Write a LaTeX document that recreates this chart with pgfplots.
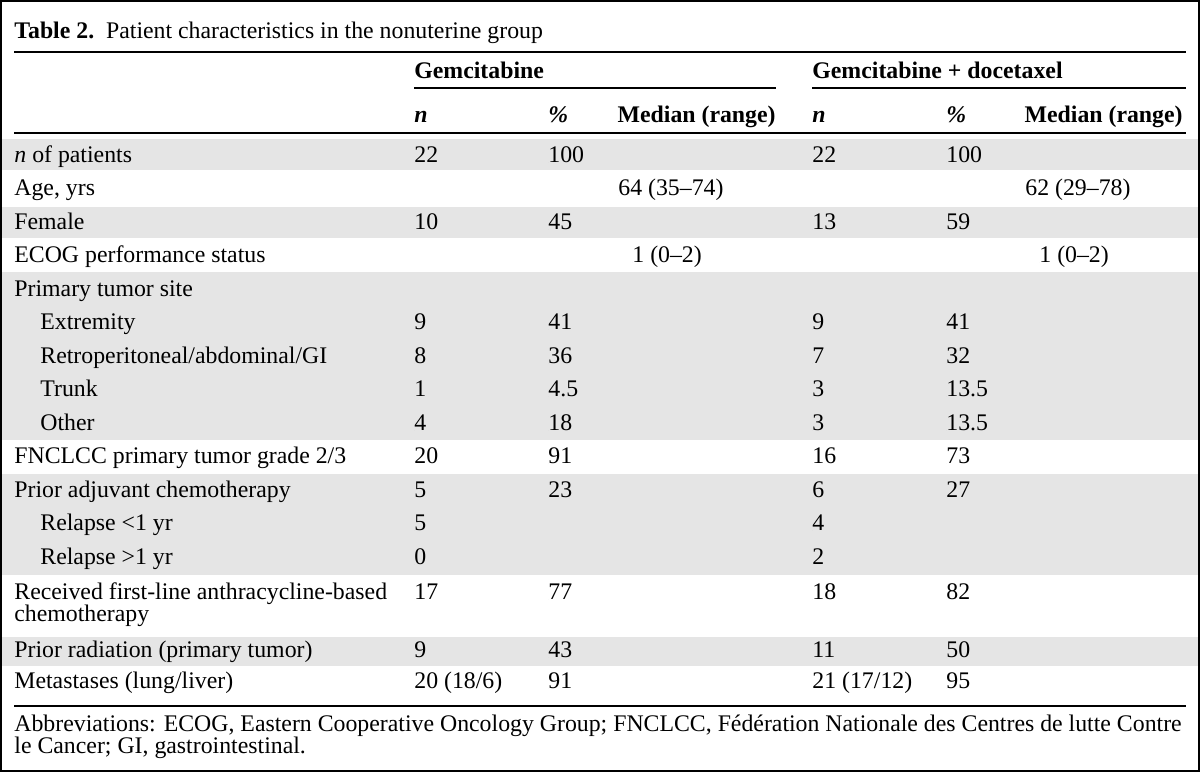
\documentclass[border=0pt]{standalone}
\usepackage{fontspec}
\setmainfont{Liberation Serif}
\usepackage{pgfplots}
\usepackage{pgfplotstable}
\pgfplotsset{compat=1.18}
\definecolor{band}{RGB}{229,229,229}
% n and % columns (x = left edge, y = baseline, px units from top)
\pgfplotstableread[col sep=comma]{
x,y,t
414,162,22
548,162,100
812,162,22
946,162,100
414,229,10
548,229,45
812,229,13
946,229,59
414,329,9
548,329,41
812,329,9
946,329,41
414,363,8
548,363,36
812,363,7
946,363,32
414,396,1
548,396,4.5
812,396,3
946,396,13.5
414,430,4
548,430,18
812,430,3
946,430,13.5
414,463,20
548,463,91
812,463,16
946,463,73
414,497,5
548,497,23
812,497,6
946,497,27
414,530,5
812,530,4
414,564,0
812,564,2
414,599,17
548,599,77
812,599,18
946,599,82
414,657,9
548,657,43
812,657,11
946,657,50
414,688,20 (18/6)
548,688,91
812,688,21 (17/12)
946,688,95
}\numcells
% median (range) columns (x = left edge)
\pgfplotstableread[col sep=comma]{
x,y,t
618,195,64 (35–74)
1025,195,62 (29–78)
632,262,1 (0–2)
1039,262,1 (0–2)
}\medcells
\begin{document}
\fontsize{11.9}{14}\selectfont
\begin{tikzpicture}
\begin{axis}[x=0.5pt, y=0.5pt, xmin=0, xmax=1200, ymin=0, ymax=772,
  y dir=reverse, hide axis, clip=false]
% row bands
\fill[band] (axis cs:2,139) rectangle (axis cs:1198,170);
\fill[band] (axis cs:2,207) rectangle (axis cs:1198,238);
\fill[band] (axis cs:2,272) rectangle (axis cs:1198,440);
\fill[band] (axis cs:2,474) rectangle (axis cs:1198,575);
\fill[band] (axis cs:2,637) rectangle (axis cs:1198,666);
% rules
\draw[line width=0.8pt] (axis cs:14,52) -- (axis cs:1186,52);
\draw[line width=0.8pt] (axis cs:414,88) -- (axis cs:776,88);
\draw[line width=0.8pt] (axis cs:812,88) -- (axis cs:1186,88);
\draw[line width=0.9pt] (axis cs:14,133) -- (axis cs:1186,133);
\draw[line width=0.9pt] (axis cs:14,706) -- (axis cs:1186,706);
% outer frame
\draw[line width=1.2pt] (axis cs:1.2,1.2) rectangle (axis cs:1198.8,770.8);
% title and headers
\node[anchor=base west, inner sep=0pt] at (axis cs:14,38) {\textbf{Table 2.}\ \ Patient characteristics in the nonuterine group};
\node[anchor=base west, inner sep=0pt] at (axis cs:414,78) {\textbf{Gemcitabine}};
\node[anchor=base west, inner sep=0pt] at (axis cs:812,78) {\textbf{Gemcitabine + docetaxel}};
\node[anchor=base west, inner sep=0pt] at (axis cs:414,122) {\textbf{\textit{n}}};
\node[anchor=base west, inner sep=0pt] at (axis cs:548,122) {\textbf{\textit{\%}}};
\node[anchor=base east, inner sep=0pt] at (axis cs:776,122) {\textbf{Median (range)}};
\node[anchor=base west, inner sep=0pt] at (axis cs:812,122) {\textbf{\textit{n}}};
\node[anchor=base west, inner sep=0pt] at (axis cs:946,122) {\textbf{\textit{\%}}};
\node[anchor=base east, inner sep=0pt] at (axis cs:1183,122) {\textbf{Median (range)}};
% row labels
\node[anchor=base west, inner sep=0pt] at (axis cs:14,162) {\textit{n} of patients};
\node[anchor=base west, inner sep=0pt] at (axis cs:14,195) {Age, yrs};
\node[anchor=base west, inner sep=0pt] at (axis cs:14,229) {Female};
\node[anchor=base west, inner sep=0pt] at (axis cs:14,262) {ECOG performance status};
\node[anchor=base west, inner sep=0pt] at (axis cs:14,296) {Primary tumor site};
\node[anchor=base west, inner sep=0pt] at (axis cs:40,329) {Extremity};
\node[anchor=base west, inner sep=0pt] at (axis cs:40,363) {Retroperitoneal/abdominal/GI};
\node[anchor=base west, inner sep=0pt] at (axis cs:40,396) {Trunk};
\node[anchor=base west, inner sep=0pt] at (axis cs:40,430) {Other};
\node[anchor=base west, inner sep=0pt] at (axis cs:14,463) {FNCLCC primary tumor grade 2/3};
\node[anchor=base west, inner sep=0pt] at (axis cs:14,497) {Prior adjuvant chemotherapy};
\node[anchor=base west, inner sep=0pt] at (axis cs:40,530) {Relapse <1 yr};
\node[anchor=base west, inner sep=0pt] at (axis cs:40,564) {Relapse >1 yr};
\node[anchor=base west, inner sep=0pt] at (axis cs:14,599) {Received first-line anthracycline-based};
\node[anchor=base west, inner sep=0pt] at (axis cs:14,621) {chemotherapy};
\node[anchor=base west, inner sep=0pt] at (axis cs:14,657) {Prior radiation (primary tumor)};
\node[anchor=base west, inner sep=0pt] at (axis cs:14,688) {Metastases (lung/liver)};
% footnote
\node[anchor=base west, inner sep=0pt] at (axis cs:14,731) {Abbreviations: ECOG, Eastern Cooperative Oncology Group; FNCLCC, Fédération Nationale des Centres de lutte Contre};
\node[anchor=base west, inner sep=0pt] at (axis cs:14,753) {le Cancer; GI, gastrointestinal.};
% cell values
\addplot[only marks, mark=*, mark size=0pt, mark options={draw=none, fill=none},
  point meta=explicit symbolic, nodes near coords,
  nodes near coords align={anchor=base west},
  every node near coord/.append style={anchor=base west, inner sep=0pt}]
  table[x=x, y=y, meta=t] {\numcells};
\addplot[only marks, mark=*, mark size=0pt, mark options={draw=none, fill=none},
  point meta=explicit symbolic, nodes near coords,
  nodes near coords align={anchor=base west},
  every node near coord/.append style={anchor=base west, inner sep=0pt}]
  table[x=x, y=y, meta=t] {\medcells};
\end{axis}
\end{tikzpicture}
\end{document}
